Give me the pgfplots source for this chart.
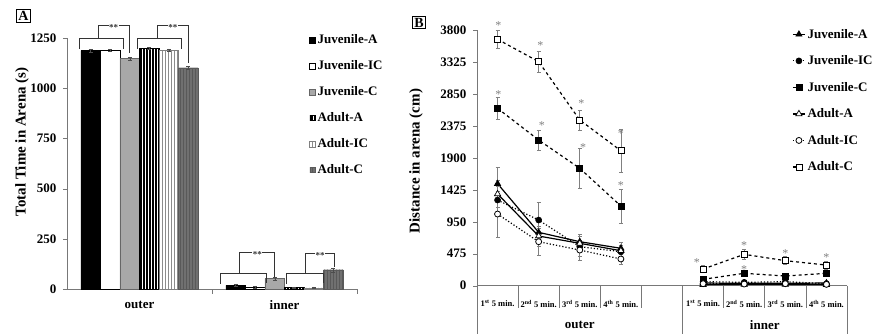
\documentclass[border=0pt]{standalone}
\usepackage{fontspec}
\setmainfont{Liberation Serif}
\usepackage{pgfplots}
\pgfplotsset{compat=1.18}
\usetikzlibrary{patterns.meta}
\newcommand\lbl{\bfseries\fontsize{13}{15}\selectfont}
\newcommand\ylbl{\bfseries\fontsize{15}{17}\selectfont}
\definecolor{axgray}{RGB}{120,120,120}
\definecolor{jcgray}{RGB}{168,168,168}
\definecolor{acgray}{RGB}{112,112,112}
\pgfplotsset{
  sqlegend/.style={legend image code/.code={\draw[##1] (0pt,-3pt) rectangle (6pt,3pt);}},
  smsqlegend/.style={legend image code/.code={\draw[##1] (0.5pt,-2.5pt) rectangle (5.5pt,2.5pt);}},
  linelegend/.style={legend image code/.code={\draw[mark repeat=2,mark phase=2,##1] plot coordinates {(0pt,0pt) (6pt,0pt) (12pt,0pt)};}},
}
\begin{document}
\begin{tikzpicture}[x=1pt,y=1pt]
\useasboundingbox (0,0) rectangle (873,333);
% ---------------- Panel A ----------------
\begin{axis}[
  at={(67pt,44pt)}, anchor=south west, scale only axis,
  width=290pt, height=251pt,
  xmin=-0.5, xmax=1.5, ymin=0, ymax=1250, clip=false,
  axis lines*=left, axis line style={axgray, line width=0.6pt},
  ybar=0pt, bar width=0.135,
  xtick=\empty,
  ytick={0,250,500,750,1000,1250}, ytick style={axgray},
  tick align=outside, major tick length=4pt,
  /pgf/number format/assume math mode=true,
  /pgf/number format/1000 sep={},
  yticklabel style={font=\lbl, xshift=-3pt},
  legend style={at={(0.824,1.03)}, anchor=north west, draw=none, fill=none,
    font=\lbl, row sep=11.5pt},
  legend cell align=left,
]
\addplot[fill=black, draw=black, sqlegend,
  error bars/.cd, y dir=both, y explicit, error bar style={black!70}]
  coordinates {(0,1187) +- (0,6) (1,18) +- (0,5)};
\addplot[fill=white, draw=black, sqlegend,
  error bars/.cd, y dir=both, y explicit, error bar style={black!70}]
  coordinates {(0,1187) +- (0,5) (1,8) +- (0,4)};
\addplot[fill=jcgray, draw=black!60, sqlegend,
  error bars/.cd, y dir=both, y explicit, error bar style={black!70}]
  coordinates {(0,1148) +- (0,8) (1,52) +- (0,8)};
\addplot[fill=white, draw=black, postaction={pattern={Lines[angle=90,distance=3pt,line width=1.9pt]}, pattern color=black},
  smsqlegend,
  error bars/.cd, y dir=both, y explicit, error bar style={black!70}]
  coordinates {(0,1197) +- (0,5) (1,7) +- (0,4)};
\addplot[fill=white, draw=black!50, postaction={pattern={Lines[angle=90,distance=3pt,line width=1pt]}, pattern color=black!45},
  sqlegend,
  error bars/.cd, y dir=both, y explicit, error bar style={black!70}]
  coordinates {(0,1190) +- (0,6) (1,6) +- (0,4)};
\addplot[fill=acgray, draw=acgray!80!black, postaction={pattern={Lines[angle=90,distance=3pt,line width=0.8pt]}, pattern color=black!65},
  smsqlegend,
  error bars/.cd, y dir=both, y explicit, error bar style={black!70}]
  coordinates {(0,1102) +- (0,8) (1,96) +- (0,10)};
\legend{Juvenile-A,Juvenile-IC,Juvenile-C,Adult-A,Adult-IC,Adult-C}
% category labels and boundary ticks
\node[font=\lbl] at (axis cs:0,-80) {outer};
\node[font=\lbl] at (axis cs:1,-80) {inner};
\draw[axgray, line width=0.6pt] (axis cs:0.5,0) -- (axis cs:0.5,-25);
\draw[axgray, line width=0.6pt] (axis cs:1.5,0) -- (axis cs:1.5,-25);
% significance brackets
\begin{scope}[black!80, line width=0.8pt]
\draw (axis cs:-0.417,1197) -- (axis cs:-0.417,1246) -- (axis cs:-0.1125,1246) -- (axis cs:-0.1125,1197);
\draw (axis cs:-0.285,1246) -- (axis cs:-0.285,1311) -- (axis cs:-0.071,1311) -- (axis cs:-0.071,1177);
\draw (axis cs:-0.0156,1197) -- (axis cs:-0.0156,1246) -- (axis cs:0.289,1246) -- (axis cs:0.289,1197);
\draw (axis cs:0.123,1246) -- (axis cs:0.123,1311) -- (axis cs:0.337,1311) -- (axis cs:0.337,1127);
\draw (axis cs:0.559,26) -- (axis cs:0.559,76) -- (axis cs:0.877,76) -- (axis cs:0.877,31);
\draw (axis cs:0.692,76) -- (axis cs:0.692,182) -- (axis cs:0.9325,182) -- (axis cs:0.9325,62);
\draw (axis cs:1.0156,26) -- (axis cs:1.0156,76) -- (axis cs:1.2696,76) -- (axis cs:1.2696,31);
\draw (axis cs:1.147,76) -- (axis cs:1.147,179) -- (axis cs:1.343,179) -- (axis cs:1.343,108);
\end{scope}
\begin{scope}[every node/.style={fill=white, inner sep=0.6pt, font=\bfseries\fontsize{9}{9}\selectfont, text=black!80}]
\node at (axis cs:-0.178,1300) {**};
\node at (axis cs:0.230,1300) {**};
\node at (axis cs:0.8127,171) {**};
\node at (axis cs:1.245,168) {**};
\end{scope}
\end{axis}
% ---------------- Panel B ----------------
\begin{axis}[
  at={(477pt,47.3pt)}, anchor=south west, scale only axis,
  width=370pt, height=255.7pt,
  xmin=-0.5, xmax=8.5, ymin=0, ymax=3800, clip=false,
  axis lines*=left, axis line style={axgray, line width=0.6pt},
  unbounded coords=jump,
  xtick={0,1,2,3,5,6,7,8},
  xticklabels={1\textsuperscript{st} 5 min.,2\textsuperscript{nd} 5 min.,3\textsuperscript{rd} 5 min.,4\textsuperscript{th} 5 min.,1\textsuperscript{st} 5 min.,2\textsuperscript{nd} 5 min.,3\textsuperscript{rd} 5 min.,4\textsuperscript{th} 5 min.},
  xtick style={draw=none},
  ytick={0,475,950,1425,1900,2375,2850,3325,3800}, ytick style={axgray},
  tick align=outside, major tick length=4pt,
  /pgf/number format/assume math mode=true,
  /pgf/number format/1000 sep={},
  yticklabel style={font=\lbl, xshift=-3pt},
  xticklabel style={font=\bfseries\fontsize{8.5}{10}\selectfont, yshift=-7pt},
  legend style={at={(0.849,1.02)}, anchor=north west, draw=none, fill=none,
    font=\lbl, row sep=12pt, inner xsep=1pt},
  legend cell align=left,
  linelegend,
  every axis plot/.append style={line width=1.2pt},
]
% Juvenile-A
\addplot[black, solid, mark=triangle*, mark size=3.6pt, mark options={solid, fill=black, line width=0.6pt},
  error bars/.cd, y dir=both, y explicit, error bar style={gray, solid, line width=0.6pt},
  error mark options={rotate=90, gray, mark size=2pt, line width=0.6pt, solid}]
  coordinates {(0,1516) +- (0,240) (1,793) +- (0,160) (2,654) +- (0,110) (3,556) +- (0,90) (4,nan)
               (5,40) +- (0,15) (6,35) +- (0,15) (7,35) +- (0,15) (8,40) +- (0,15)};
% Juvenile-IC
\addplot[black, dotted, mark=*, mark size=3pt, mark options={solid, fill=black, line width=0.6pt},
  error bars/.cd, y dir=both, y explicit, error bar style={gray, solid, line width=0.6pt},
  error mark options={rotate=90, gray, mark size=2pt, line width=0.6pt, solid}]
  coordinates {(0,1273) +- (0,200) (1,976) +- (0,270) (2,580) +- (0,150) (3,505) +- (0,100) (4,nan)
               (5,60) +- (0,20) (6,50) +- (0,20) (7,60) +- (0,20) (8,30) +- (0,15)};
% Juvenile-C
\addplot[black, dashed, mark=square*, mark size=3pt, mark options={solid, fill=black, line width=0.6pt},
  error bars/.cd, y dir=both, y explicit, error bar style={gray, solid, line width=0.6pt},
  error mark options={rotate=90, gray, mark size=2pt, line width=0.6pt, solid}]
  coordinates {(0,2636) +- (0,168) (1,2165) +- (0,150) (2,1744) +- (0,300) (3,1184) +- (0,250) (4,nan)
               (5,95) +- (0,30) (6,184) +- (0,50) (7,144) +- (0,40) (8,184) +- (0,40)};
% Adult-A
\addplot[black, solid, mark=triangle*, mark size=3.6pt, mark options={solid, fill=white, line width=0.7pt},
  error bars/.cd, y dir=both, y explicit, error bar style={gray, solid, line width=0.6pt},
  error mark options={rotate=90, gray, mark size=2pt, line width=0.6pt, solid}]
  coordinates {(0,1363) +- (0,200) (1,738) +- (0,150) (2,630) +- (0,100) (3,520) +- (0,80) (4,nan)
               (5,15) +- (0,10) (6,20) +- (0,10) (7,20) +- (0,10) (8,15) +- (0,10)};
% Adult-IC
\addplot[black, dotted, mark=*, mark size=3pt, mark options={solid, fill=white, line width=0.8pt},
  error bars/.cd, y dir=both, y explicit, error bar style={gray, solid, line width=0.6pt},
  error mark options={rotate=90, gray, mark size=2pt, line width=0.6pt, solid}]
  coordinates {(0,1065) +- (0,340) (1,654) +- (0,200) (2,530) +- (0,150) (3,397) +- (0,80) (4,nan)
               (5,30) +- (0,10) (6,25) +- (0,10) (7,30) +- (0,10) (8,20) +- (0,10)};
% Adult-C
\addplot[black, dashed, mark=square*, mark size=3pt, mark options={solid, fill=white, line width=0.7pt},
  error bars/.cd, y dir=both, y explicit, error bar style={gray, solid, line width=0.6pt},
  error mark options={rotate=90, gray, mark size=2pt, line width=0.6pt, solid}]
  coordinates {(0,3662) +- (0,130) (1,3329) +- (0,160) (2,2462) +- (0,150) (3,2006) +- (0,320) (4,nan)
               (5,248) +- (0,50) (6,466) +- (0,80) (7,372) +- (0,60) (8,307) +- (0,60)};
\legend{Juvenile-A,Juvenile-IC,Juvenile-C,Adult-A,Adult-IC,Adult-C}
% category separator lines
\begin{scope}[axgray, line width=0.6pt]
\draw (axis cs:0.5,0) -- (axis cs:0.5,-331);
\draw (axis cs:1.5,0) -- (axis cs:1.5,-331);
\draw (axis cs:2.5,0) -- (axis cs:2.5,-331);
\draw (axis cs:3.5,0) -- (axis cs:3.5,-331);
\draw (axis cs:5.5,0) -- (axis cs:5.5,-331);
\draw (axis cs:6.5,0) -- (axis cs:6.5,-331);
\draw (axis cs:7.5,0) -- (axis cs:7.5,-331);
\draw (axis cs:-0.5,0) -- (axis cs:-0.5,-760);
\draw (axis cs:4.5,0) -- (axis cs:4.5,-760);
\draw (axis cs:8.5,0) -- (axis cs:8.5,-760);
\end{scope}
\node[font=\lbl] at (axis cs:2,-584) {outer};
\node[font=\lbl] at (axis cs:6.5,-584) {inner};
% significance stars
\begin{scope}[every node/.style={text=gray, font=\fontsize{12}{12}\selectfont, inner sep=0pt, yshift=-2.5pt}]
\node at (axis cs:0.02,3908) {*};
\node at (axis cs:1.04,3611) {*};
\node at (axis cs:2.04,2749) {*};
\node at (axis cs:3.0,2303) {*};
\node at (axis cs:0.02,2883) {*};
\node at (axis cs:1.08,2422) {*};
\node at (axis cs:2.08,2091) {*};
\node at (axis cs:3.0,1531) {*};
\node at (axis cs:4.85,382) {*};
\node at (axis cs:6.0,639) {*};
\node at (axis cs:7.0,520) {*};
\node at (axis cs:8.0,456) {*};
\node at (axis cs:6.0,282) {*};
\end{scope}
\end{axis}
% y labels and panel letters
\node[rotate=90, font=\ylbl] at (22,191) {Total Time in Arena (s)};
\node[rotate=90, font=\ylbl] at (416,172) {Distance in arena (cm)};
\node[draw, line width=1pt, inner sep=1.5pt, font=\bfseries\fontsize{14}{14}\selectfont] at (23.5,317) {A};
\node[draw, line width=1pt, inner sep=1.5pt, font=\bfseries\fontsize{14}{14}\selectfont] at (419,310.5) {B};
\end{tikzpicture}
\end{document}
